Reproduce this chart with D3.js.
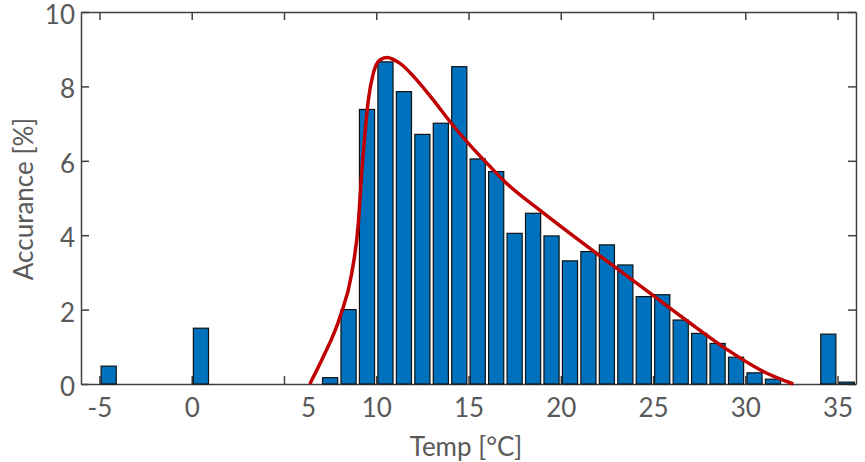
<!DOCTYPE html>
<html>
<head>
<meta charset="utf-8">
<script src="https://cdn.jsdelivr.net/npm/d3@7"></script>
<style>
  body { margin: 0; background: #fff; }
  .axis path, .axis line { stroke: #404040; stroke-width: 1.5; }
  .axis text { font-family: Lato, "Open Sans", sans-serif; font-size: 26px; fill: #595959; }
</style>
</head>
<body>
<script>
// histogram of temperature bins (bin centres) and share in %
var binCenters = [-5.5,-4.5,-3.5,-2.5,-1.5,-0.5,0.5,1.5,2.5,3.5,4.5,5.5,6.5,7.5,8.5,9.5,10.5,11.5,12.5,13.5,14.5,
                  15.5,16.5,17.5,18.5,19.5,20.5,21.5,22.5,23.5,24.5,25.5,26.5,27.5,28.5,29.5,30.5,31.5,32.5,33.5,34.5,35.5];
var binValues  = [0,0.48,0,0,0,0,1.5,0,0,0,0,0,0,0.17,2.0,7.38,8.66,7.86,6.71,7.01,8.53,
                  6.05,5.71,4.05,4.59,3.98,3.31,3.56,3.74,3.2,2.35,2.4,1.72,1.36,1.09,0.72,0.3,0.13,0,0,1.34,0.05];

// fitted distribution, points
var fitX = [6.4,7.13,8.04,8.67,9.03,9.21,9.39,9.57,9.84,10.2,10.57,11.29,12.2,13.1,14.0,15.08,16.1,17.07,19.0,21.0,23.0,25.0,27.0,29.0,31.0,32.6];
var fitY = [0,0.73,1.81,2.97,4.32,5.66,6.74,7.63,8.35,8.71,8.78,8.62,8.17,7.63,7.05,6.42,5.88,5.39,4.62,3.86,3.12,2.38,1.64,0.93,0.33,0];

var xTicks = [-5,0,5,10,15,20,25,30,35];
var yTicks = [0,2,4,6,8,10];

var margin = {left:81, right:9, top:12, bottom:78};
var width = 865 - margin.left - margin.right;
var height = 462 - margin.top - margin.bottom;

var x = d3.scaleLinear().domain([-6, 36]).range([0, width]);
var y = d3.scaleLinear().domain([0, 10]).range([height, 0]);

var svg = d3.select("body").append("svg").attr("width", 865).attr("height", 462);
var g = svg.append("g").attr("transform", "translate(" + margin.left + "," + margin.top + ")");

// axes with inward ticks, boxed like matlab
var xAxis = g.append("g").attr("class", "axis x")
  .attr("transform", "translate(0," + height + ")")
  .call(d3.axisBottom(x).tickValues(xTicks).tickSize(-8).tickPadding(15).tickSizeOuter(0)
    .tickFormat(function(d){ return String(d); }));
xAxis.selectAll(".tick text").filter(function(d){ return d === 5; }).attr("dx", 24); // label sits right of its tick in the original

g.append("g").attr("class", "axis y")
  .call(d3.axisLeft(y).tickValues(yTicks).tickSize(-8).tickPadding(6).tickSizeOuter(0))
  .selectAll(".tick text").attr("dy", "0.44em");

g.append("g").attr("class", "axis")
  .call(d3.axisTop(x).tickValues(xTicks).tickSize(-8).tickSizeOuter(0).tickFormat(""));
g.append("g").attr("class", "axis")
  .attr("transform", "translate(" + width + ",0)")
  .call(d3.axisRight(y).tickValues(yTicks).tickSize(-8).tickSizeOuter(0).tickFormat(""));

// bars
var half = 0.41;
g.selectAll("rect.bar")
  .data(binCenters)
  .enter().append("rect")
  .attr("class", "bar")
  .attr("x", function(d){ return x(d - half); })
  .attr("width", function(d){ return x(d + half) - x(d - half); })
  .attr("y", function(d, i){ return y(binValues[i]); })
  .attr("height", function(d, i){ return y(0) - y(binValues[i]); })
  .attr("fill", "#0072bd")
  .attr("stroke", "#111")
  .attr("stroke-width", 1.2);

// fitted curve
var line = d3.line()
  .x(function(d){ return x(d); })
  .y(function(d, i){ return y(fitY[i]); })
  .curve(d3.curveMonotoneX);

g.append("path")
  .attr("d", line(fitX))
  .attr("fill", "none")
  .attr("stroke", "#c00000")
  .attr("stroke-width", 3.5);

// axis titles
svg.append("text")
  .attr("x", 466).attr("y", 456)
  .attr("text-anchor", "middle")
  .attr("font-family", "Lato, 'Open Sans', sans-serif")
  .attr("font-size", 26)
  .attr("fill", "#595959")
  .text("Temp [°C]");

svg.append("text")
  .attr("transform", "translate(33,199) rotate(-90)")
  .attr("text-anchor", "middle")
  .attr("font-family", "Lato, 'Open Sans', sans-serif")
  .attr("font-size", 26)
  .attr("fill", "#595959")
  .text("Accurance [%]");
</script>
</body>
</html>
